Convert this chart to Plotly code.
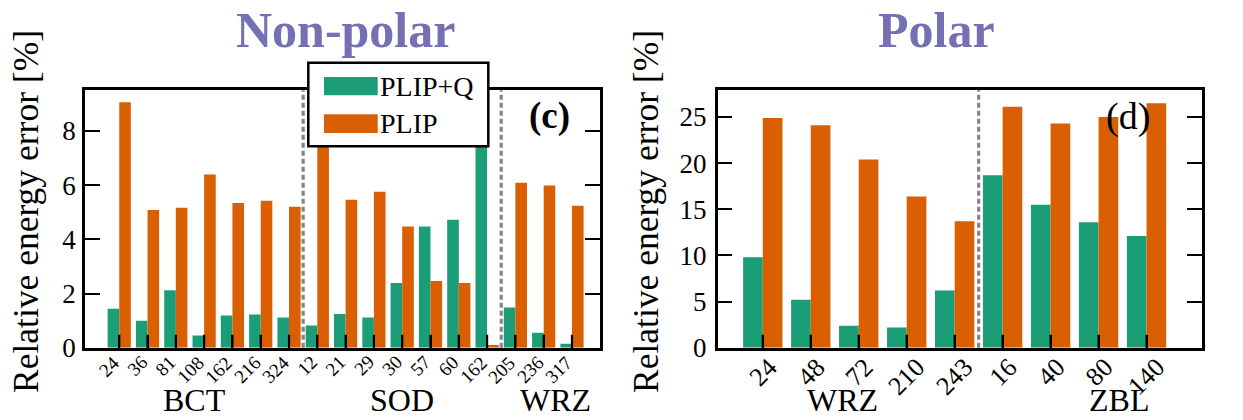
import plotly.graph_objects as go

# ---------------- data ----------------
np_groups = ["BCT", "SOD", "WRZ"]
np_sizes = [
    ["24", "36", "81", "108", "162", "216", "324"],
    ["12", "21", "29", "30", "57", "60", "162"],
    ["205", "236", "317"],
]
np_plipq = [1.44, 1.00, 2.12, 0.45, 1.19, 1.23, 1.12,
            0.82, 1.25, 1.12, 2.39, 4.47, 4.72, 7.8,
            1.49, 0.56, 0.15]
np_plip = [9.06, 5.08, 5.17, 6.39, 5.34, 5.42, 5.20,
           8.0, 5.46, 5.76, 4.47, 2.46, 2.39, 0.10,
           6.09, 5.99, 5.24]

p_groups = ["WRZ", "ZBL"]
p_sizes = [
    ["24", "48", "72", "210", "243"],
    ["16", "40", "80", "140"],
]
p_plipq = [9.8, 5.2, 2.4, 2.2, 6.2, 18.7, 15.5, 13.6, 12.1]
p_plip = [24.9, 24.1, 20.4, 16.4, 13.7, 26.1, 24.3, 25.0, 26.5]

np_yticks = [0, 2, 4, 6, 8]
p_yticks = [0, 5, 10, 15, 20, 25]

# ---------------- style ----------------
W, H = 1243, 420          # layout reference frame
FIG_H = 436               # declared height that renders as a 420 px paper
GREEN = "#1b9e77"
ORANGE = "#d95f02"
PURPLE = "#7570b3"
FONT = "Liberation Serif"
BW = 0.41


def px(x):
    return x / W


def py(y):
    return 1 - y / H


np_labels = [s for g in np_sizes for s in g]
p_labels = [s for g in p_sizes for s in g]
np_idx = list(range(len(np_labels)))
p_idx = list(range(len(p_labels)))

fig = go.Figure()
for xs, g, o, xa, ya in [(np_idx, np_plipq, np_plip, "x", "y"),
                         (p_idx, p_plipq, p_plip, "x2", "y2")]:
    fig.add_trace(go.Bar(x=xs, y=g, width=BW, offset=-BW, marker_color=GREEN,
                         marker_line_width=0, name="PLIP+Q", xaxis=xa, yaxis=ya,
                         showlegend=False))
    fig.add_trace(go.Bar(x=xs, y=o, width=BW, offset=0, marker_color=ORANGE,
                         marker_line_width=0, name="PLIP", xaxis=xa, yaxis=ya,
                         showlegend=False))

axis_common = dict(showline=True, linecolor="black", linewidth=2.5,
                   ticks="inside", tickcolor="black", tickwidth=2.2,
                   showgrid=False, zeroline=False, layer="above traces",
                   tickfont=dict(family=FONT, size=27, color="black"))
xaxis_common = {k: v for k, v in axis_common.items() if k != "tickfont"}

ydom = [py(347), py(90)]
fig.update_layout(
    width=W, height=FIG_H, autosize=False, margin=dict(l=0, r=0, t=0, b=0),
    paper_bgcolor="white", plot_bgcolor="white",
    barmode="overlay",
    xaxis=dict(domain=[px(85), px(600)], range=[-1.21, 16.99],
               tickvals=np_idx, showticklabels=False,
               mirror=True, ticklen=13, anchor="y", **xaxis_common),
    yaxis=dict(domain=ydom, range=[0, 9.5], tickvals=np_yticks,
               mirror="ticks", ticklen=15, anchor="x", ticklabelstandoff=1,
               **axis_common),
    xaxis2=dict(domain=[px(717.7), px(1201.7)], range=[-0.94, 9.15],
                tickvals=p_idx, showticklabels=False,
                mirror=True, ticklen=13, anchor="y2", **xaxis_common),
    yaxis2=dict(domain=ydom, range=[0, 27.9], tickvals=p_yticks,
                mirror="ticks", ticklen=15, anchor="x2", ticklabelstandoff=3,
                **axis_common),
)

shapes = []
# group separators (dashed)
for sizes, xref, yref in [(np_sizes, "x", "y domain"), (p_sizes, "x2", "y2 domain")]:
    pos = -0.5
    for g in sizes[:-1]:
        pos += len(g)
        shapes.append(dict(type="line", xref=xref, yref=yref, x0=pos, x1=pos,
                           y0=0, y1=1, line=dict(color="#858585", width=3.2,
                                                 dash="5px,3px")))
# bottom tick marks drawn over the bars
for idx, xref, yref in [(np_idx, "x", "y"), (p_idx, "x2", "y2")]:
    for i in idx:
        shapes.append(dict(type="line", xref=xref, yref=yref, x0=i, x1=i,
                           ysizemode="pixel", yanchor=0, y0=0, y1=13,
                           line=dict(color="black", width=2.2)))
# legend box
shapes.append(dict(type="rect", xref="paper", yref="paper",
                   x0=px(308.3), x1=px(488.3), y0=py(146), y1=py(62.7),
                   fillcolor="white", line=dict(color="black", width=2.5)))
shapes.append(dict(type="rect", xref="paper", yref="paper",
                   x0=px(324), x1=px(377.7), y0=py(95), y1=py(76.7),
                   fillcolor=GREEN, line=dict(width=0)))
shapes.append(dict(type="rect", xref="paper", yref="paper",
                   x0=px(324), x1=px(377.7), y0=py(132.7), y1=py(114),
                   fillcolor=ORANGE, line=dict(width=0)))
fig.update_layout(shapes=shapes)

ann = []


def text(x, y, s, size, xref="paper", xanchor="center", yanchor="middle",
         bold=False, color="black", angle=0):
    if bold:
        s = "<b>" + s + "</b>"
    ann.append(dict(x=x, y=y, xref=xref, yref="paper", text=s, showarrow=False,
                    xanchor=xanchor, yanchor=yanchor, textangle=angle,
                    font=dict(family=FONT, size=size, color=color)))


# legend text
text(px(378), py(86), "PLIP+Q", 28, xanchor="left")
text(px(378), py(123.5), "PLIP", 28, xanchor="left")

# titles
text(px(345), py(30), "Non-polar", 50, bold=True, color=PURPLE)
text(px(936.7), py(30), "Polar", 50, bold=True, color=PURPLE)

# panel labels
text(px(549), py(116), "(c)", 37, bold=True)
text(px(1127.5), py(116), "(d)", 38)

# y titles
text(px(26), py(211.5), "Relative energy error [%]", 35.5, angle=-90)
text(px(646), py(211.5), "Relative energy error [%]", 35.5, angle=-90)

# left panel x tick labels (right end at the tick)
for i, lab in zip(np_idx, np_labels):
    text(i + 0.25, py(348), lab, 19, xref="x", xanchor="right", yanchor="top",
         angle=-45)

# right panel x tick labels (centred under ticks)
for i, lab in zip(p_idx, p_labels):
    text(i, py(349), lab, 26, xref="x2", yanchor="top", angle=-45)

# group labels (box bottom kept inside the picture)
np_group_x = [2.65, 10.0, 15.4]
p_group_x = [1.67, 7.43]
for gx, g in zip(np_group_x, np_groups):
    text(gx, py(419.5), g, 32, xref="x", yanchor="bottom")
for gx, g in zip(p_group_x, p_groups):
    text(gx, py(419.5), g, 32, xref="x2", yanchor="bottom")

fig.update_layout(annotations=ann)
fig.write_html(
    "out.html",
    config={"responsive": False, "displayModeBar": False},
    post_script=(
        "var s=document.createElement('style');"
        "s.innerHTML='html{overflow:hidden;}body{margin:0;padding:0;}';"
        "document.head.appendChild(s);"
    ),
)
